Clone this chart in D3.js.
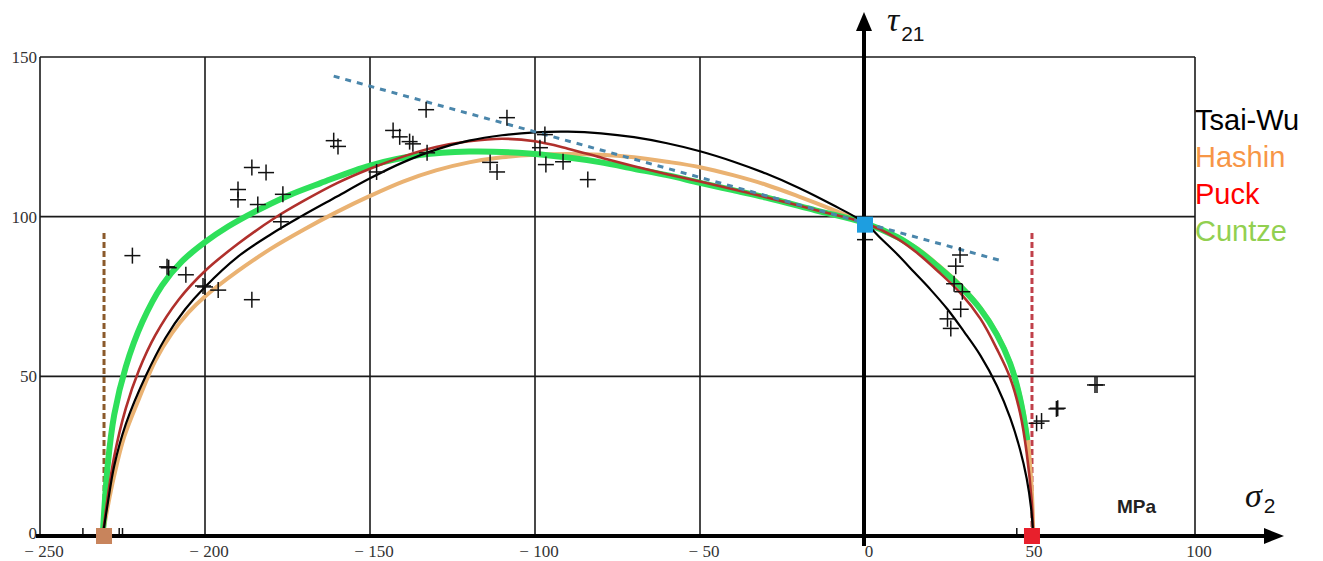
<!DOCTYPE html>
<html><head><meta charset="utf-8">
<script src="https://cdn.jsdelivr.net/npm/d3@7"></script>
<style>body{margin:0;background:#fff}svg{display:block}</style>
</head><body>
<svg id="chart" width="1323" height="561"></svg>
<script>
// ---- data ----
const xTicks = [-250, -200, -150, -100, -50, 0, 50, 100];
const xTickLabels = ["\u2212 250", "\u2212 200", "\u2212 150", "\u2212 100", "\u2212 50", "0", "50", "100"];
const yTicks = [0, 50, 100, 150];
const xGrid = [-250, -200, -150, -100, -50, 100];
const yGrid = [50, 100, 150];

const tsaiWu = [[-231,0],[-229.5,10],[-227.5,22],[-224,35],[-218,50],[-212,62],[-206,71],[-200,78],[-190,87.5],[-180,94.5],[-171,100],[-160,106.3],[-150,112],[-140,117],[-130,121],[-120,123.8],[-110,125.5],[-100,126.4],[-90,126.6],[-80,126.1],[-70,124.9],[-60,123],[-50,120.5],[-40,117.3],[-30,113.5],[-20,109],[-10,103.8],[0,98],[5,93],[10,88],[15,82.5],[20,77],[25,71],[30,64],[35,56.5],[40,47],[44,37],[47,27],[49,18],[50.3,9],[51,0]];
const hashin = [[-231,0],[-229.5,9],[-227.5,19],[-224.5,31],[-220,43],[-215,55],[-210,63.5],[-205,70],[-200,75],[-190,83],[-180,90],[-170,96],[-160,101.5],[-150,106.5],[-140,111],[-130,114.5],[-120,117],[-110,118.6],[-100,119.4],[-90,119.6],[-80,119.4],[-70,118.6],[-60,117.2],[-50,115.5],[-40,113],[-30,110],[-20,106.3],[-10,102.3],[0,98],[10,93.5],[16,90],[22,85],[29,78.5],[35,71.5],[40,63.5],[44,54.5],[47,44],[49,33],[50.5,15],[51,0]];
const puck = [[-231,0],[-229.5,12],[-227.5,25],[-224,40],[-220,52],[-215,63],[-208,74],[-200,83],[-190,91.5],[-179,99.5],[-170,105],[-160,110.5],[-150,115],[-140,118.8],[-130,121.8],[-120,123.6],[-110,124.4],[-100,123.6],[-90,121.3],[-80,118.5],[-70,115.8],[-60,113.3],[-50,111],[-40,108.6],[-30,106.1],[-15,102.1],[0,98],[10,93],[16,88.5],[22,83],[29,76],[35,68],[40,58.5],[44,49.5],[47,38.5],[49,26],[50.5,11],[51,0]];
const cuntze = [[-231,0],[-229.5,22],[-227.5,38],[-224,53],[-219,67],[-213,78.5],[-207,86],[-200,92],[-193,96.9],[-185,101.5],[-175,106.5],[-165,110.5],[-150,116],[-135,119.3],[-120,120.4],[-105,120],[-90,118.5],[-80,117],[-70,115],[-60,113],[-50,110.6],[-40,108.3],[-30,106],[-15,102],[0,98],[10,93.5],[16,89.5],[22,84.5],[29,78],[35,71],[40,63],[44,54],[47,43],[49.2,30]];
const dashedLine = [[-161,144],[42,86]];
const limitLeft = [[-230.6,0],[-230.6,95]];
const limitRight = [[50.6,0],[50.6,95]];
const squares = [[-230.6,0,"#c8845c"],[50.6,0,"#e8202c"],[0,97.5,"#1e9ee0"]];

const crossX = [-222,-211.5,-211,-205.8,-200.6,-200,-196,-185.8,-190,-190,-185.8,-181.5,-184,-176.4,-177,-161,-159.7,-148,-143,-141,-138,-137,-133,-132.7,-113.6,-111.5,-108.5,-97,-98.5,-96.7,-91.5,-84,0,28.8,27.5,27,29.5,25,26,29,52,53.5,58,58.4,69.7,70.3];
const crossY = [87.8,84.3,84,81.8,78.3,78,77,74,108.5,105.3,115.4,113.8,103.8,107,98.4,123.8,122,114,127,125,123.5,122.8,133.5,120,117,114,131,125.7,121.6,116.3,117.2,111.6,92.8,88,84.5,79,76.5,68,65,71,35.3,36,39.8,40,47.3,47.3];
const tickMarkX = [-237,-226,-225,46];

const legendNames = ["Tsai-Wu","Hashin","Puck","Cuntze"];
const legendColors = ["#000000","#f79646","#ff0000","#92d050"];

// ---- scales ----
const svg = d3.select("#chart");
const x = d3.scaleLinear().domain([-250,100]).range([40,1195]);
const y = d3.scaleLinear().domain([0,150]).range([536,57]);

// grid
const g = svg.append("g");
g.selectAll(".vg").data(xGrid).join("line")
  .attr("x1",d=>x(d)).attr("x2",d=>x(d)).attr("y1",y(0)).attr("y2",y(150))
  .attr("stroke","#1a1a1a").attr("stroke-width",1.6);
g.selectAll(".hg").data(yGrid).join("line")
  .attr("x1",x(-250)).attr("x2",x(100)).attr("y1",d=>y(d)).attr("y2",d=>y(d))
  .attr("stroke","#1a1a1a").attr("stroke-width",1.6);

// tick labels
const serif = "'Liberation Serif', 'Times New Roman', serif";
svg.selectAll(".xl").data(xTicks).join("text")
  .attr("x",(d)=>x(d)+4).attr("y",557)
  .attr("text-anchor","middle").attr("font-family",serif)
  .attr("font-size",17).attr("fill","#333")
  .text((d,i)=>xTickLabels[i]);
svg.selectAll(".yl").data(yTicks).join("text")
  .attr("x",37).attr("y",d=>y(d)+(d===0?3:6))
  .attr("text-anchor","end").attr("font-family",serif)
  .attr("font-size",17).attr("fill","#333")
  .text(d=>d);

// clip
svg.append("clipPath").attr("id","clip").append("rect")
  .attr("x",x(-250)).attr("y",y(150)).attr("width",x(100)-x(-250)).attr("height",y(0)-y(150));

// small tick marks near axis
svg.append("g").selectAll("line").data(tickMarkX).join("line")
  .attr("x1",d=>x(d)).attr("x2",d=>x(d)).attr("y1",y(0)-8).attr("y2",y(0))
  .attr("stroke","#111").attr("stroke-width",1.5);

// limit lines
svg.append("path").attr("d",d3.line().x(d=>x(d[0])).y(d=>y(d[1]))(limitLeft))
  .attr("stroke","#8b5a2b").attr("stroke-width",3).attr("stroke-dasharray","6,3").attr("fill","none");
svg.append("path").attr("d",d3.line().x(d=>x(d[0])).y(d=>y(d[1]))(limitRight))
  .attr("stroke","#c0404a").attr("stroke-width",3).attr("stroke-dasharray","6,3").attr("fill","none");

// curves
const line = d3.line().x(d=>x(d[0])).y(d=>y(d[1])).curve(d3.curveCatmullRom.alpha(0.5));
const curves = [
  {d:hashin, c:"#eab272", w:4},
  {d:cuntze, c:"#2ee05a", w:6},
  {d:puck, c:"#b0302c", w:2.6},
  {d:tsaiWu, c:"#000000", w:2.2}
];
svg.append("g").selectAll("path").data(curves).join("path")
  .attr("d",d=>line(d.d)).attr("stroke",d=>d.c).attr("stroke-width",d=>d.w)
  .attr("fill","none").attr("stroke-linejoin","round");

// dashed line
svg.append("path").attr("d",d3.line().x(d=>x(d[0])).y(d=>y(d[1]))(dashedLine))
  .attr("stroke","#4a86ab").attr("stroke-width",3).attr("stroke-dasharray","6,6").attr("fill","none");

// crosses
const cr = 8;
const cg = svg.append("g").attr("clip-path","url(#clip)");
crossX.forEach((cx,i)=>{
  const px = x(cx), py = y(crossY[i]);
  cg.append("line").attr("x1",px-cr).attr("x2",px+cr).attr("y1",py).attr("y2",py).attr("stroke","#111").attr("stroke-width",1.5);
  cg.append("line").attr("x1",px).attr("x2",px).attr("y1",py-cr).attr("y2",py+cr).attr("stroke","#111").attr("stroke-width",1.5);
});

// axes (thick)
svg.append("line").attr("x1",36).attr("x2",1268).attr("y1",y(0)).attr("y2",y(0)).attr("stroke","#000").attr("stroke-width",4);
svg.append("path").attr("d",`M1284,${y(0)} L1264,${y(0)-8} L1264,${y(0)+8} Z`).attr("fill","#000");
svg.append("line").attr("x1",x(0)-1).attr("x2",x(0)-1).attr("y1",546).attr("y2",26).attr("stroke","#000").attr("stroke-width",4);
svg.append("path").attr("d",`M${x(0)-1},12 L${x(0)-9},31 L${x(0)+7},31 Z`).attr("fill","#000");

// squares
svg.append("g").selectAll("rect").data(squares).join("rect")
  .attr("x",d=>x(d[0])-8).attr("y",d=>y(d[1])-8).attr("width",16).attr("height",16)
  .attr("fill",d=>d[2]);

// axis titles
const tau = svg.append("text").attr("x",887).attr("y",31).attr("font-family",serif).attr("font-style","italic").attr("font-size",34).attr("fill","#111");
tau.append("tspan").text("\u03c4");
tau.append("tspan").attr("font-family","'Liberation Sans', Arial, sans-serif").attr("font-style","normal").attr("font-size",21).attr("dy",10).attr("dx",2).text("21");
const sig = svg.append("text").attr("x",1245).attr("y",507).attr("font-family",serif).attr("font-style","italic").attr("font-size",34).attr("fill","#111");
sig.append("tspan").text("\u03c3");
sig.append("tspan").attr("font-family","'Liberation Sans', Arial, sans-serif").attr("font-style","normal").attr("font-size",21).attr("dy",6).attr("dx",2).text("2");
svg.append("text").attr("x",1117).attr("y",513).attr("font-family","'Liberation Sans', Arial, sans-serif").attr("font-weight","bold").attr("font-size",19).attr("fill","#222").text("MPa");

// legend
svg.append("g").selectAll("text").data(legendNames).join("text")
  .attr("x",1195).attr("y",(d,i)=>130+i*37)
  .attr("font-family","'Liberation Sans', Arial, sans-serif").attr("font-size",29)
  .attr("fill",(d,i)=>legendColors[i]).text(d=>d);
</script>
</body></html>
